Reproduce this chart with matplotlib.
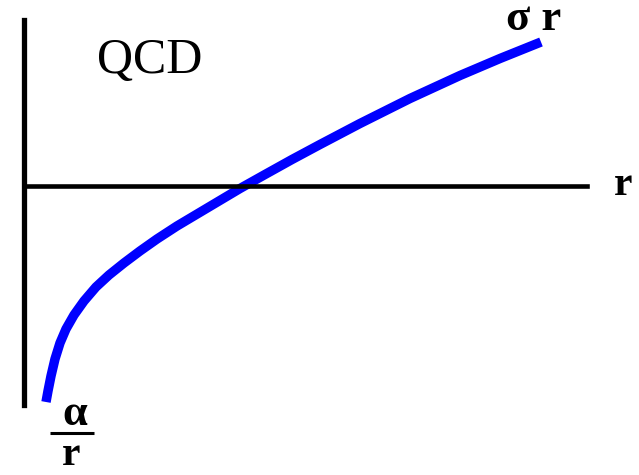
import matplotlib
matplotlib.use("Agg")
import matplotlib.pyplot as plt

# Cornell-type potential sketch: V(r) = -alpha/r + sigma*r (values traced in chart units)
r_vals = [0.22, 0.24, 0.27, 0.31, 0.36, 0.42, 0.50, 0.60, 0.72, 0.85,
          1.00, 1.16, 1.33, 1.53, 1.74, 1.95, 2.16, 2.41, 2.68, 2.96,
          3.36, 3.86, 4.36, 4.76, 5.17]
v_vals = [-2.16, -2.05, -1.90, -1.73, -1.57, -1.43, -1.29, -1.15, -1.01, -0.89,
          -0.77, -0.65, -0.53, -0.40, -0.275, -0.15, -0.025, 0.115, 0.265, 0.415,
          0.625, 0.875, 1.105, 1.275, 1.44]

title_text = "QCD"
far_label = "σ r"
near_num = "α"
near_den = "r"
axis_label = "r"

fig = plt.figure(figsize=(6.39, 4.75), dpi=100)
ax = fig.add_axes([0, 0, 1, 1])
ax.set_xlim(-0.24, 6.15)
ax.set_ylim(-2.89, 1.86)

# axes drawn as spines crossing at the origin
for side in ("top", "right"):
    ax.spines[side].set_visible(False)
ax.spines["left"].set_position(("data", 0))
ax.spines["left"].set_bounds(-2.19, 1.66)
ax.spines["left"].set_linewidth(3.8)
ax.spines["bottom"].set_position(("data", 0))
ax.spines["bottom"].set_bounds(0, 5.63)
ax.spines["bottom"].set_linewidth(3.3)
ax.set_xticks([])
ax.set_yticks([])
ax.patch.set_visible(False)

ax.plot(r_vals, v_vals, color="#0000ff", lw=6.8, solid_capstyle="butt",
        solid_joinstyle="round")

serif = "Liberation Serif"
ax.text(1.255, 1.13, title_text, family=serif, fontsize=36, ha="center", va="baseline")
ax.text(5.10, 1.56, far_label, family=serif, fontsize=32, fontweight="bold",
        ha="center", va="baseline")
ax.text(5.995, -0.09, axis_label, family=serif, fontsize=30, fontweight="bold",
        ha="center", va="baseline")

# alpha / r fraction near the short-distance end
ax.text(0.51, -2.39, near_num, family=serif, fontsize=32, fontweight="bold",
        ha="center", va="baseline")
ax.plot([0.26, 0.70], [-2.467, -2.467], color="black", lw=2.2, solid_capstyle="butt")
ax.text(0.47, -2.79, near_den, family=serif, fontsize=30, fontweight="bold",
        ha="center", va="baseline")

fig.savefig("out.png", dpi=100)
